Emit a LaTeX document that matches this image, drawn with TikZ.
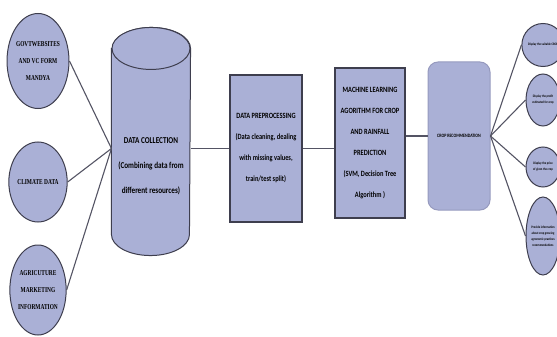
\documentclass[tikz,border=0pt]{standalone}
\usepackage{fontspec}
\usepackage{tikz}
\usetikzlibrary{shapes.geometric}
\usetikzlibrary{positioning}
\newfontfamily\boxfont[FakeStretch=0.8]{Carlito}
\newfontfamily\srcfont[FakeStretch=0.72]{Liberation Serif}
\definecolor{lavender}{RGB}{170,176,214}
\definecolor{rimgray}{RGB}{62,62,78}
\definecolor{wiregray}{RGB}{84,84,100}
\definecolor{softrim}{RGB}{150,154,190}
\tikzset{my_flow/.style={x=1pt,y=-1pt,line width=1.1pt}}
\tikzset{my_source/.style={ellipse, draw=rimgray, fill=lavender, line width=1pt, inner sep=0pt, minimum width=50pt, align=center, font=\srcfont\bfseries\fontsize{7.5}{17}\selectfont}}
\tikzset{my_store/.style={rectangle, inner sep=0pt, minimum width=78pt, minimum height=185pt}}
\tikzset{my_store_body/.style={draw=rimgray, fill=lavender, line width=1pt}}
\tikzset{my_store_text/.style={align=center, font=\boxfont\bfseries\fontsize{9}{25}\selectfont}}
\tikzset{my_step/.style={rectangle, draw=rimgray, fill=lavender, line width=1.2pt, align=center, font=\boxfont\bfseries\fontsize{8}{21}\selectfont}}
\tikzset{my_result/.style={rectangle, rounded corners=10pt, draw=softrim, fill=lavender, line width=1pt, minimum width=62pt, minimum height=148pt, align=center, font=\boxfont\bfseries\fontsize{5}{6}\selectfont}}
\tikzset{my_output/.style={ellipse, draw=rimgray, fill=lavender, line width=1pt, inner sep=0pt, minimum width=34pt, align=center, font=\boxfont\bfseries\fontsize{3.5}{6}\selectfont}}
\tikzset{my_wire/.style={draw=wiregray}}

\begin{document}
\begin{tikzpicture}[my_flow]
    \useasboundingbox (0,0) rectangle (557,337);
    % sources
    \node[my_source, minimum height=95pt] (govt) at (38,61) {GOVTWEBSITES\\AND VC FORM\\MANDYA};
    \node[my_source, minimum height=80pt] (climate) at (38,182) {CLIMATE DATA};
    \node[my_source, minimum height=90pt] (market) at (38,290) {AGRICUTURE\\MARKETING\\INFORMATION};
    % data store (cylinder)
    \node[my_store] (collection) at (151,141.5) {};
    \path[my_store_body] (collection.north west) -- (collection.south west)
        arc[start angle=180, end angle=360, x radius=39pt, y radius=21pt]
        -- (collection.north east)
        arc[start angle=0, end angle=180, x radius=39pt, y radius=21pt] -- cycle;
    \draw[my_store_body] (collection.north) ellipse[x radius=39pt, y radius=21pt];
    \node[my_store_text] (collection_text) at (151,166) {DATA COLLECTION\\(Combining data from\\different resources)};
    % pipeline
    \node[my_step, minimum width=72pt, minimum height=147pt] (prep) at (266,148.5) {DATA PREPROCESSING\\(Data cleaning, dealing\\with missing values,\\train/test split)};
    \node[my_step, minimum width=70pt, minimum height=150pt] (ml) at (370,143) {MACHINE LEARNING\\AGORITHM FOR CROP\\AND RAINFALL\\PREDICTION\\(SVM, Decision Tree\\Algorithm )};
    \node[my_result] (crop) at (459,136) {CROP RECOMMENDATION};
    % outputs
    \node[my_output, minimum height=43pt] (suit) at (543,45) {Display the suitable CROP};
    \node[my_output, minimum height=52pt] (profit) at (543,100) {Display the profit\\estimated for crop};
    \node[my_output, minimum height=40pt] (price) at (543,167) {Display the price\\of given the crop};
    \node[my_output, minimum height=78pt] (info) at (543,236) {Provide information\\about crop growing\\agronomic practices\\recommendations};

    \path[my_wire]
        (govt.east) edge (collection.west |- prep.west)
        (climate.east) edge (collection.west |- prep.west)
        (market.east) edge (collection.west |- prep.west)
        (collection.east |- prep.west) edge (prep.west)
        (prep.east) edge (prep.east -| ml.west)
        (ml.east |- crop.west) edge (crop.west)
        (crop.east) edge (suit.west)
        (crop.east) edge (profit.west)
        (crop.east) edge (price.west)
        (crop.east) edge (info.west)
    ;
\end{tikzpicture}
\end{document}
